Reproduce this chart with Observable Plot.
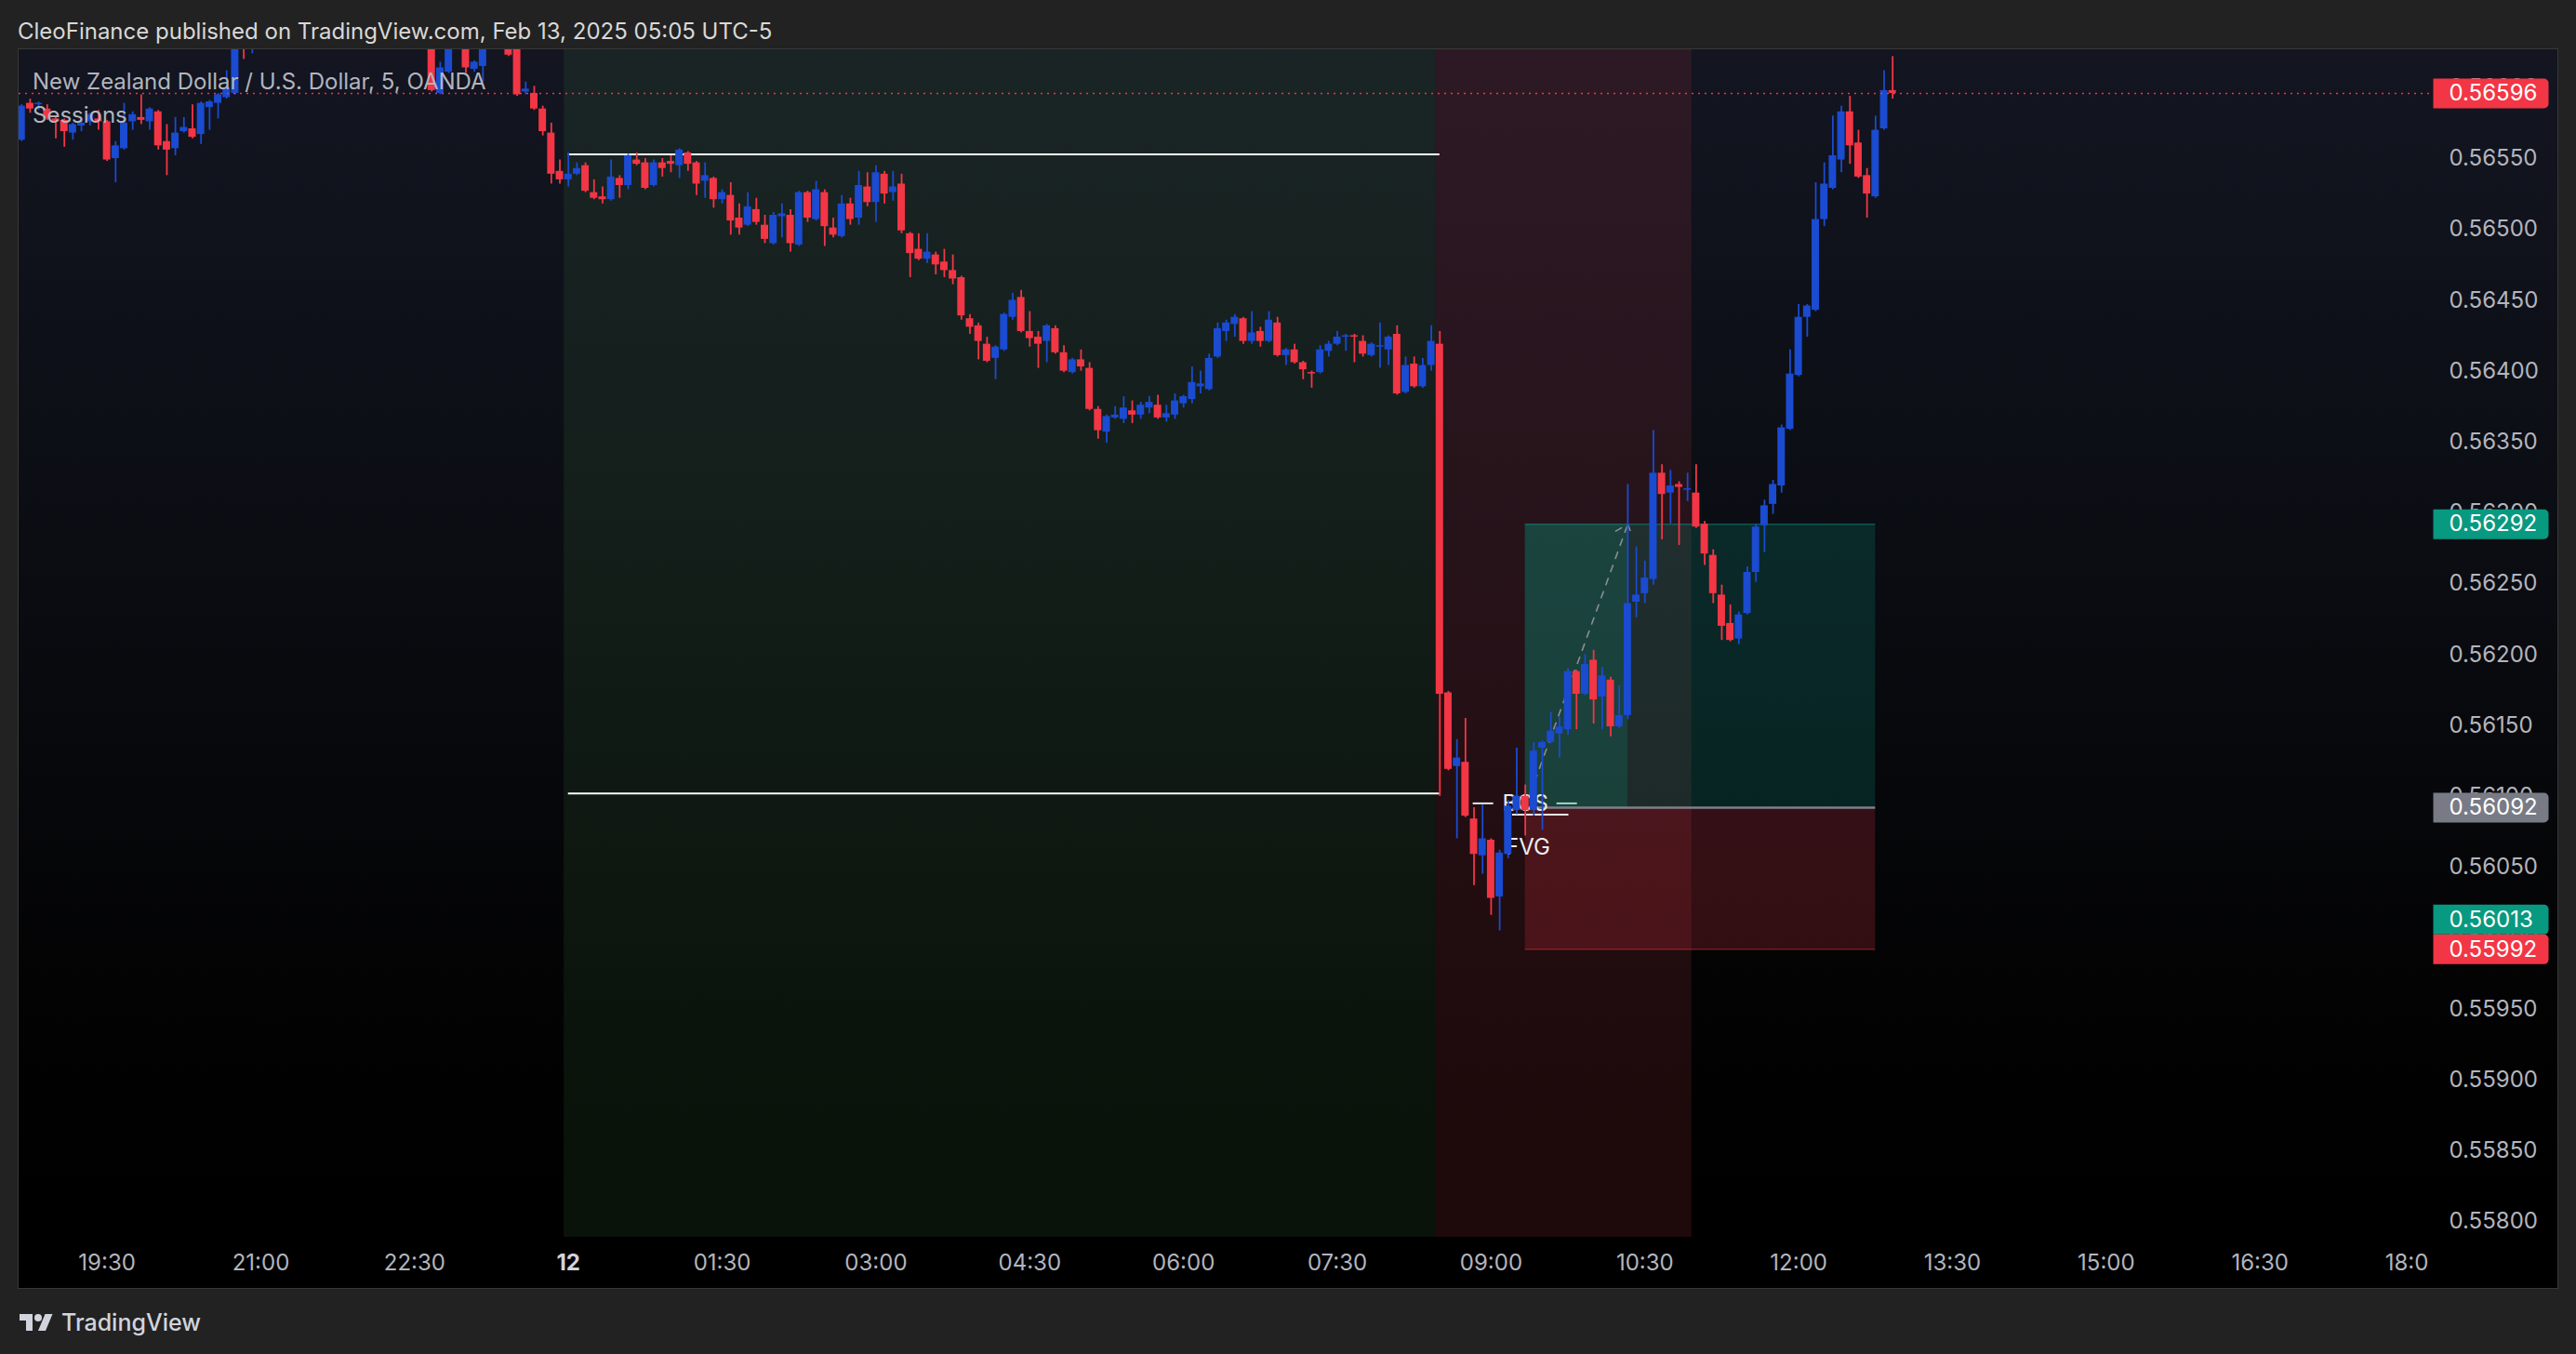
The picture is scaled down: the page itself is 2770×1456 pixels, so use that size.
<!DOCTYPE html>
<html><head><meta charset="utf-8">
<script src="https://cdn.jsdelivr.net/npm/d3@7"></script>
<script src="https://cdn.jsdelivr.net/npm/@observablehq/plot@0.6"></script>
<style>
html,body{margin:0;padding:0;background:#222222;}
body{width:2770px;height:1456px;position:relative;overflow:hidden;font-family:Inter,"Noto Sans",sans-serif;}
#header{position:absolute;left:19px;top:18px;font-size:24px;color:#d8d8d8;line-height:32px;white-space:nowrap;}
#panel{position:absolute;left:19px;top:52px;width:2732px;height:1334px;box-sizing:border-box;border:1.5px solid #383838;
 background:linear-gradient(to bottom,#131521 0%,#0b0d13 40%,#030304 75%,#000 92%);}
#chart{position:absolute;left:0;top:0;}
#axiscover{position:absolute;left:2612px;top:1331px;width:137px;height:53px;background:#000;}
#legend{position:absolute;left:35px;top:70px;font-size:24px;color:#b2b5be;line-height:36px;white-space:nowrap;}
#footer{position:absolute;left:20px;top:1407px;display:flex;align-items:center;gap:8px;color:#d1d4dc;font-size:25px;font-weight:500;}
</style></head>
<body>
<div id="header">CleoFinance published on TradingView.com, Feb 13, 2025 05:05 UTC-5</div>
<div id="panel"></div>
<div id="chart"></div>
<div id="axiscover"></div>
<div id="legend"><div>New Zealand Dollar / U.S. Dollar, 5, OANDA</div><div>Sessions</div></div>
<div id="footer"><svg width="38" height="22" viewBox="0 0 36 22"><path fill="#d1d4dc" d="M14 20H7V9H0V2h14v18zM28 20h-8l7.5-18h8L28 20z"/><circle fill="#d1d4dc" cx="20" cy="6" r="4"/></svg><span>TradingView</span></div>
<script>
// ---- data: 5-minute bars, index 0 = 00:00 on the 12th ----
const barIndex = [-64,-63,-62,-61,-60,-59,-58,-57,-56,-55,-54,-53,-52,-51,-50,-49,-48,-47,-46,-45,-44,-43,-42,-41,-40,-39,-38,-37,
 -16,-15,-14,-12,-11,-10,-7,-6,-5,-4,-3,-2,-1,
 0,1,2,3,4,5,6,7,8,9,10,11,12,13,14,15,16,17,18,19,20,21,22,23,24,25,26,27,28,29,30,31,32,33,34,35,36,37,38,39,
 40,41,42,43,44,45,46,47,48,49,50,51,52,53,54,55,56,57,58,59,60,61,62,63,64,65,66,67,68,69,70,71,72,73,74,75,76,77,78,79,
 80,81,82,83,84,85,86,87,88,89,90,91,92,93,94,95,96,97,98,99,100,101,102,103,104,105,106,107,108,109,110,111,112,113,114,115,116,117,118,119,
 120,121,122,123,124,125,126,127,128,129,130,131,132,133,134,135,136,137,138,139,140,141,142,143,144,145,146,147,148,149,150,151,152,153,154,155];
const opens = [0.56563,0.56589,0.56588,0.56585,0.56578,0.56577,0.56568,0.56573,0.56576,0.56578,0.56576,0.56550,0.56557,0.56576,0.56579,0.56576,0.56583,0.56562,0.56557,0.56569,0.56571,0.56567,0.56586,0.56589,0.56593,0.56596,0.56650,0.56632,
 0.56645,0.56596,0.56611,0.56640,0.56613,0.56615,0.56640,0.56632,0.56597,0.56596,0.56585,0.56568,0.56541,
 0.56535,0.56539,0.56545,0.56526,0.56523,0.56521,0.56536,0.56531,0.56549,0.56547,0.56531,0.56547,0.56548,0.56545,0.56554,0.56547,0.56534,0.56536,0.56521,0.56524,0.56508,0.56503,0.56514,0.56503,0.56490,0.56509,0.56510,0.56489,0.56526,0.56507,0.56526,0.56501,0.56495,0.56518,0.56508,0.56530,0.56519,0.56539,0.56526,0.56532,
 0.56497,0.56486,0.56479,0.56482,0.56477,0.56471,0.56466,0.56437,0.56432,0.56419,0.56409,0.56415,0.56438,0.56452,0.56428,0.56424,0.56421,0.56430,0.56413,0.56399,0.56408,0.56402,0.56373,0.56357,0.56367,0.56366,0.56372,0.56369,0.56374,0.56376,0.56367,0.56369,0.56377,0.56380,0.56389,0.56387,0.56410,0.56428,0.56433,0.56437,
 0.56421,0.56428,0.56421,0.56434,0.56411,0.56415,0.56406,0.56399,0.56399,0.56414,0.56419,0.56424,0.56425,0.56421,0.56411,0.56417,0.56415,0.56426,0.56385,0.56405,0.56389,0.56404,0.56419,0.56173,0.56121,0.56124,0.56084,0.56058,0.56069,0.56029,0.56059,0.56090,0.56100,0.56090,0.56134,0.56138,0.56144,0.56147,0.56188,0.56172,
 0.56196,0.56170,0.56182,0.56149,0.56157,0.56237,0.56243,0.56253,0.56328,0.56314,0.56320,0.56316,0.56314,0.56292,0.56270,0.56242,0.56222,0.56211,0.56229,0.56258,0.56291,0.56306,0.56319,0.56359,0.56397,0.56438,0.56443,0.56507,0.56529,0.56549,0.56583,0.56561,0.56538,0.56523,0.56571,0.56598];
const highs = [0.56588,0.56592,0.56590,0.56588,0.56580,0.56578,0.56575,0.56578,0.56582,0.56584,0.56577,0.56562,0.56589,0.56583,0.56595,0.56586,0.56584,0.56574,0.56579,0.56579,0.56588,0.56590,0.56591,0.56596,0.56612,0.56645,0.56655,0.56650,
 0.56650,0.56618,0.56645,0.56645,0.56619,0.56645,0.56645,0.56640,0.56604,0.56601,0.56587,0.56575,0.56549,
 0.56554,0.56547,0.56547,0.56535,0.56530,0.56549,0.56538,0.56553,0.56554,0.56550,0.56549,0.56550,0.56552,0.56557,0.56555,0.56548,0.56547,0.56537,0.56528,0.56533,0.56518,0.56526,0.56522,0.56510,0.56512,0.56518,0.56514,0.56527,0.56527,0.56534,0.56528,0.56508,0.56524,0.56522,0.56541,0.56540,0.56545,0.56541,0.56541,0.56539,
 0.56498,0.56497,0.56497,0.56484,0.56486,0.56482,0.56467,0.56440,0.56434,0.56424,0.56418,0.56441,0.56455,0.56457,0.56442,0.56428,0.56433,0.56432,0.56418,0.56409,0.56415,0.56406,0.56375,0.56369,0.56375,0.56382,0.56379,0.56378,0.56382,0.56383,0.56376,0.56384,0.56383,0.56403,0.56400,0.56412,0.56434,0.56436,0.56440,0.56438,
 0.56442,0.56431,0.56442,0.56438,0.56416,0.56419,0.56407,0.56400,0.56418,0.56421,0.56428,0.56426,0.56426,0.56425,0.56420,0.56434,0.56425,0.56432,0.56410,0.56410,0.56409,0.56432,0.56428,0.56174,0.56140,0.56155,0.56092,0.56094,0.56070,0.56062,0.56097,0.56134,0.56108,0.56138,0.56139,0.56159,0.56156,0.56190,0.56189,0.56200,
 0.56203,0.56191,0.56184,0.56178,0.56320,0.56276,0.56266,0.56358,0.56334,0.56330,0.56322,0.56328,0.56334,0.56294,0.56274,0.56249,0.56235,0.56230,0.56262,0.56292,0.56309,0.56323,0.56362,0.56415,0.56447,0.56447,0.56533,0.56547,0.56580,0.56587,0.56594,0.56570,0.56543,0.56580,0.56612,0.56622];
const lows = [0.56562,0.56582,0.56584,0.56577,0.56564,0.56558,0.56563,0.56569,0.56573,0.56570,0.56548,0.56533,0.56556,0.56570,0.56574,0.56570,0.56556,0.56538,0.56552,0.56568,0.56564,0.56560,0.56570,0.56578,0.56592,0.56595,0.56620,0.56624,
 0.56597,0.56595,0.56610,0.56610,0.56611,0.56604,0.56622,0.56594,0.56595,0.56584,0.56566,0.56532,0.56532,
 0.56530,0.56538,0.56526,0.56521,0.56518,0.56520,0.56522,0.56528,0.56545,0.56528,0.56530,0.56537,0.56540,0.56536,0.56541,0.56524,0.56522,0.56515,0.56518,0.56496,0.56496,0.56502,0.56503,0.56490,0.56489,0.56494,0.56484,0.56488,0.56505,0.56506,0.56488,0.56494,0.56494,0.56503,0.56503,0.56516,0.56505,0.56518,0.56520,0.56497,
 0.56466,0.56478,0.56476,0.56468,0.56466,0.56461,0.56436,0.56426,0.56408,0.56406,0.56394,0.56414,0.56436,0.56427,0.56417,0.56402,0.56406,0.56412,0.56399,0.56398,0.56400,0.56372,0.56352,0.56349,0.56366,0.56363,0.56363,0.56366,0.56370,0.56366,0.56364,0.56366,0.56374,0.56377,0.56384,0.56386,0.56409,0.56421,0.56424,0.56419,
 0.56419,0.56417,0.56420,0.56410,0.56404,0.56405,0.56394,0.56388,0.56398,0.56410,0.56418,0.56414,0.56406,0.56410,0.56410,0.56402,0.56404,0.56383,0.56384,0.56388,0.56388,0.56400,0.56100,0.56118,0.56070,0.56085,0.56037,0.56045,0.56016,0.56005,0.56056,0.56087,0.56072,0.56086,0.56076,0.56137,0.56127,0.56143,0.56147,0.56171,
 0.56151,0.56147,0.56142,0.56148,0.56154,0.56226,0.56236,0.56249,0.56281,0.56292,0.56277,0.56308,0.56289,0.56263,0.56236,0.56210,0.56209,0.56207,0.56228,0.56251,0.56272,0.56299,0.56314,0.56358,0.56396,0.56424,0.56442,0.56502,0.56528,0.56540,0.56546,0.56536,0.56508,0.56522,0.56570,0.56592];
const closes = [0.56587,0.56585,0.56589,0.56578,0.56576,0.56569,0.56574,0.56575,0.56581,0.56576,0.56549,0.56559,0.56575,0.56581,0.56577,0.56585,0.56559,0.56556,0.56568,0.56572,0.56565,0.56589,0.56590,0.56595,0.56600,0.56640,0.56635,0.56645,
 0.56598,0.56614,0.56640,0.56614,0.56618,0.56640,0.56623,0.56595,0.56599,0.56585,0.56569,0.56539,0.56535,
 0.56539,0.56543,0.56527,0.56522,0.56521,0.56537,0.56531,0.56552,0.56546,0.56529,0.56547,0.56543,0.56546,0.56556,0.56546,0.56532,0.56538,0.56521,0.56526,0.56506,0.56501,0.56516,0.56505,0.56493,0.56510,0.56511,0.56490,0.56526,0.56508,0.56528,0.56502,0.56496,0.56518,0.56507,0.56531,0.56519,0.56540,0.56525,0.56530,0.56499,
 0.56483,0.56479,0.56484,0.56475,0.56471,0.56465,0.56439,0.56431,0.56421,0.56407,0.56417,0.56440,0.56450,0.56428,0.56423,0.56419,0.56432,0.56413,0.56400,0.56408,0.56403,0.56373,0.56358,0.56368,0.56369,0.56374,0.56369,0.56376,0.56378,0.56367,0.56370,0.56379,0.56382,0.56392,0.56391,0.56409,0.56430,0.56434,0.56438,0.56421,
 0.56427,0.56421,0.56436,0.56411,0.56415,0.56406,0.56401,0.56398,0.56415,0.56419,0.56424,0.56425,0.56424,0.56412,0.56419,0.56418,0.56424,0.56384,0.56404,0.56389,0.56404,0.56421,0.56172,0.56119,0.56127,0.56086,0.56059,0.56070,0.56028,0.56060,0.56093,0.56100,0.56090,0.56132,0.56138,0.56146,0.56149,0.56188,0.56172,0.56193,
 0.56168,0.56185,0.56149,0.56157,0.56236,0.56242,0.56254,0.56328,0.56313,0.56319,0.56318,0.56317,0.56290,0.56271,0.56243,0.56220,0.56210,0.56228,0.56258,0.56290,0.56305,0.56320,0.56360,0.56398,0.56438,0.56446,0.56507,0.56532,0.56552,0.56583,0.56559,0.56537,0.56525,0.56570,0.56598,0.56596];

// sessions (first and last bar of each)
const sessionNames = ["Asia","London"];
const sessionFirstBar = [0, 102];
const sessionLastBar = [101, 131];
// Asia session high / low levels
const levelPrices = [0.56553, 0.56102];
const levelFromBar = [0, 0];
const levelToBar = [102, 102];

// long position tool
const positionStartBar = 112, positionEndBar = 153, targetHitBar = 124;
const entryPrice = 0.56092, targetPrice = 0.56292, stopPrice = 0.55992;

// structure annotations
const bosPrice = 0.56095, bosBar = 112, bosLeft = [105.9, 108.3], bosRight = [115.7, 118.1];
const fvgPrice = 0.56087, fvgFrom = 110.5, fvgTo = 117.1, fvgLabelBar = 112.3, fvgLabelPrice = 0.56064;

// axes
const priceTicks = [0.55800,0.55850,0.55900,0.55950,0.56000,0.56050,0.56100,0.56150,0.56200,0.56250,0.56300,0.56350,0.56400,0.56450,0.56500,0.56550,0.56600];
const timeTickBars = [-54,-36,-18,0,18,36,54,72,90,108,126,144,162,180,198,216];
const timeTickLabels = ["19:30","21:00","22:30","12","01:30","03:00","04:30","06:00","07:30","09:00","10:30","12:00","13:30","15:00","16:30","18:00"];
const dayBreakBars = [0];
const tagPrices = [0.56596, 0.56292, 0.56092, 0.56013, 0.55992];
const tagKinds = ["down","up","neutral","up","down"];

// ---- styles ----
const UP = "#1a4bd0", DOWN = "#f23645";
const kindColor = {up: "#089981", down: "#f23645", neutral: "#787b86"};
const sessionFill = {Asia: "rgba(66,125,66,0.15)", London: "rgba(150,45,55,0.2)"};
const W = 2770, H = 1456, ML = 20, MR = 158, MT = 53, MB = 126;

const candles = barIndex.map((k, i) => ({k, o: opens[i], h: highs[i], l: lows[i], c: closes[i]}));
const sessions = sessionNames.map((n, i) => ({n, a: sessionFirstBar[i], b: sessionLastBar[i]}));
const levels = levelPrices.map((p, i) => ({p, a: levelFromBar[i], b: levelToBar[i]}));
const trade = [{a: positionStartBar, b: positionEndBar, hit: targetHitBar, e: entryPrice, tp: targetPrice, sl: stopPrice}];
const timeTicks = timeTickBars.map((k, i) => ({k, label: timeTickLabels[i], bold: dayBreakBars.includes(k)}));
const tags = tagPrices.map((p, i) => ({p, color: kindColor[tagKinds[i]]}));
const col = d => d.c >= d.o ? UP : DOWN;

const tagSymbol = {draw(ctx) {
  const x0 = 4, x1 = 128, h = 16, r = 5;
  ctx.moveTo(x0, -h); ctx.lineTo(x1 - r, -h); ctx.arcTo(x1, -h, x1, -h + r, r);
  ctx.lineTo(x1, h - r); ctx.arcTo(x1, h, x1 - r, h, r); ctx.lineTo(x0, h); ctx.closePath();
}};

const chart = Plot.plot({
  width: W, height: H, marginLeft: ML, marginRight: MR, marginTop: MT, marginBottom: MB,
  x: {domain: [-64.3, 217.84], axis: null},
  y: {domain: [0.557888, 0.566268], axis: null},
  color: {type: "identity"},
  style: {background: "transparent", fontFamily: "Inter, 'Noto Sans', sans-serif", fontSize: "24px", color: "#b2b5be", overflow: "visible"},
  marks: [
    Plot.rect(sessions, {x1: d => d.a - 0.5, x2: d => d.b + 0.5, fill: d => sessionFill[d.n]}),
    Plot.rect(trade, {x1: "a", x2: "b", y1: "e", y2: "tp", fill: "rgba(8,153,129,0.2)"}),
    Plot.rect(trade, {x1: "a", x2: "hit", y1: "e", y2: "tp", fill: "rgba(8,153,129,0.2)"}),
    Plot.rect(trade, {x1: "a", x2: "b", y1: "sl", y2: "e", fill: "rgba(242,54,69,0.2)"}),
    Plot.ruleY(trade, {y: "tp", x1: "a", x2: "b", stroke: "rgba(8,153,129,0.45)", strokeWidth: 1.5}),
    Plot.ruleY(trade, {y: "sl", x1: "a", x2: "b", stroke: "rgba(242,54,69,0.45)", strokeWidth: 1.5}),
    Plot.ruleY(trade, {y: "e", x1: "a", x2: "b", stroke: "#7d8089", strokeWidth: 2.5}),
    Plot.ruleY(levels, {y: "p", x1: "a", x2: "b", stroke: "#ffffff", strokeWidth: 2}),
    Plot.ruleY([bosLeft], {y: () => bosPrice, x1: d => d[0], x2: d => d[1], stroke: "#e6e6e6", strokeWidth: 2}),
    Plot.ruleY([bosRight], {y: () => bosPrice, x1: d => d[0], x2: d => d[1], stroke: "#9fd9cc", strokeWidth: 2}),
    Plot.ruleY([fvgPrice], {y: d => d, x1: () => fvgFrom, x2: () => fvgTo, stroke: "#f0e6e6", strokeWidth: 2}),
    Plot.text(["BOS"], {x: () => bosBar, y: () => bosPrice, text: d => d, fill: "#e8e8e8", fontSize: 24}),
    Plot.text(["FVG"], {x: () => fvgLabelBar, y: () => fvgLabelPrice, text: d => d, fill: "#ececec", fontSize: 24}),
    Plot.arrow(trade, {x1: "a", y1: "e", x2: "hit", y2: "tp", stroke: "#8b8e97", strokeWidth: 1.6, strokeDasharray: "7,8", headLength: 14, headAngle: 80}),
    Plot.ruleX(candles, {x: "k", y1: "l", y2: "h", stroke: col, strokeWidth: 1.8, clip: "frame"}),
    Plot.rect(candles, {x1: d => d.k - 0.5, x2: d => d.k + 0.5, y1: "o", y2: "c", fill: col, insetLeft: 0.6, insetRight: 0.6, clip: "frame"}),
    Plot.ruleY([closes[closes.length - 1]], {y: d => d, stroke: "#f23645", strokeWidth: 1.5, strokeDasharray: "2,5"}),
    Plot.text(priceTicks, {y: d => d, text: d => d.toFixed(5), frameAnchor: "right", dx: 21, textAnchor: "start", fill: "#b2b5be", fontSize: 24}),
    Plot.dot(tags, {y: "p", frameAnchor: "right", symbol: tagSymbol, fill: "color", stroke: null, r: 1}),
    Plot.text(tags, {y: "p", text: d => d.p.toFixed(5), frameAnchor: "right", dx: 21, textAnchor: "start", fill: "#ffffff", fontSize: 24}),
    Plot.text(timeTicks.filter(d => !d.bold), {x: "k", text: "label", frameAnchor: "bottom", dy: 28, lineAnchor: "middle", fill: "#b2b5be", fontSize: 24}),
    Plot.text(timeTicks.filter(d => d.bold), {x: "k", text: "label", frameAnchor: "bottom", dy: 28, lineAnchor: "middle", fill: "#d1d4dc", fontSize: 24, fontWeight: "bold"})
  ]
});
document.getElementById("chart").appendChild(chart);
</script>
</body></html>
